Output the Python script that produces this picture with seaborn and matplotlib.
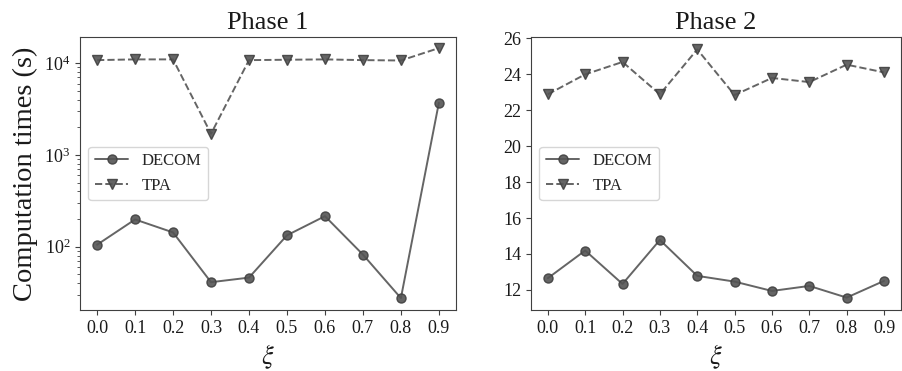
import numpy as np
import pandas as pd
import matplotlib
matplotlib.use("Agg")
import matplotlib.pyplot as plt
import seaborn as sns

# xi values and computation times
xi = [0.0, 0.1, 0.2, 0.3, 0.4, 0.5, 0.6, 0.7, 0.8, 0.9]
phase1_decom = [105, 198, 143, 41, 46, 133, 215, 82, 27.5, 3700]
phase1_tpa = [10800, 11000, 11000, 1700, 10800, 10900, 11000, 10800, 10700, 14600]
phase2_decom = [12.65, 14.19, 12.33, 14.78, 12.78, 12.46, 11.94, 12.22, 11.57, 12.5]
phase2_tpa = [22.89, 24.0, 24.69, 22.89, 25.39, 22.85, 23.8, 23.57, 24.54, 24.11]
tick_labels = ["0.0", "0.1", "0.2", "0.3", "0.4", "0.5", "0.6", "0.7", "0.8", "0.9"]

sns.set_style("ticks")
plt.rcParams["font.family"] = ["Liberation Serif", "DejaVu Serif"]
plt.rcParams["mathtext.fontset"] = "stix"
plt.rcParams["axes.edgecolor"] = "0.25"
plt.rcParams["xtick.color"] = "0.25"
plt.rcParams["ytick.color"] = "0.25"
plt.rcParams["xtick.labelcolor"] = "0.1"
plt.rcParams["ytick.labelcolor"] = "0.1"

fig = plt.figure(figsize=(9.02, 3.71), dpi=100)
ax1 = fig.add_axes([0.0887, 0.1644, 0.4168, 0.7359])
ax2 = fig.add_axes([0.5887, 0.1644, 0.4100, 0.7359])

line_color = "0.33"


def draw(ax, decom, tpa, title):
    sns.lineplot(x=xi, y=decom, ax=ax, color=line_color, marker="o",
                 markersize=6.5, markeredgecolor="0.25", markeredgewidth=1.0,
                 linewidth=1.4, label="DECOM", alpha=0.9)
    sns.lineplot(x=xi, y=tpa, ax=ax, color=line_color, marker="v",
                 markersize=6.5, markeredgecolor="0.25", markeredgewidth=1.0,
                 linewidth=1.4, linestyle="--", label="TPA", alpha=0.9)
    ax.set_title(title, fontsize=19, color="0.1")
    ax.set_xlabel(r"$\xi$", fontsize=19, color="0.1")
    ax.set_xticks(xi)
    ax.set_xticklabels(tick_labels)
    ax.tick_params(labelsize=13)
    ax.legend(loc="center left", fontsize=12, frameon=True, framealpha=0.8)


draw(ax1, phase1_decom, phase1_tpa, "Phase 1")
ax1.set_yscale("log")
ax1.set_ylim(20.4, 19300)
ax1.set_ylabel("Computation times (s)", fontsize=20.5, color="0.1")

draw(ax2, phase2_decom, phase2_tpa, "Phase 2")
ax2.set_yticks([12, 14, 16, 18, 20, 22, 24, 26])

fig.savefig("out.png", dpi=100)
